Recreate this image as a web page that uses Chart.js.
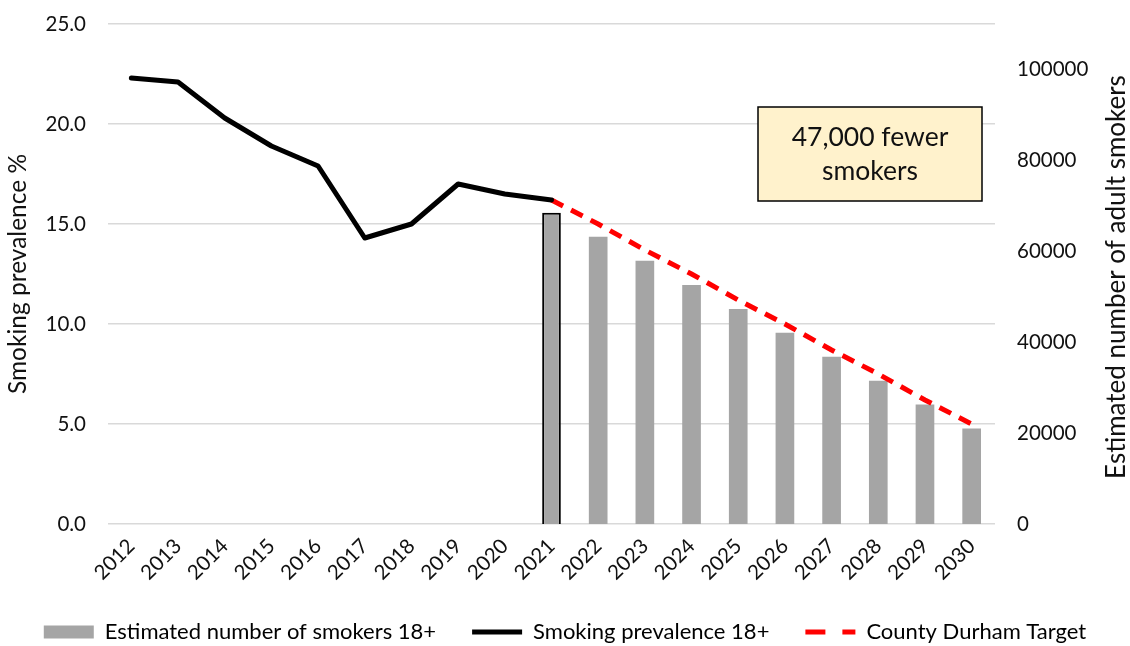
<!DOCTYPE html>
<html>
<head>
<meta charset="utf-8">
<script src="https://cdn.jsdelivr.net/npm/chart.js@4.4.1/dist/chart.umd.min.js"></script>
<style>
  html, body { margin: 0; padding: 0; background: #fff; }
  #wrap { width: 1130px; height: 646px; position: relative; }
</style>
</head>
<body>
<div id="wrap"><canvas id="chart"></canvas></div>
<script>
// data
const years = ["2012", "2013", "2014", "2015", "2016", "2017", "2018", "2019", "2020", "2021",
               "2022", "2023", "2024", "2025", "2026", "2027", "2028", "2029", "2030"];
const prevalence = [22.3, 22.1, 20.3, 18.9, 17.9, 14.3, 15.0, 17.0, 16.5, 16.2,
                    null, null, null, null, null, null, null, null, null];
const target = [null, null, null, null, null, null, null, null, null, 16.2,
                15.0, 13.7, 12.5, 11.2, 10.0, 8.7, 7.5, 6.2, 5.0];
const smokers = [null, null, null, null, null, null, null, null, null, 68500,
                 63200, 57900, 52600, 47300, 42100, 36800, 31500, 26300, 21000];
const leftTicks = [0, 5, 10, 15, 20, 25];
const rightTicks = [0, 20000, 40000, 60000, 80000, 100000];
const seriesNames = ["Estimated number of smokers 18+", "Smoking prevalence 18+", "County Durham Target"];
const noteLines = ["47,000 fewer", "smokers"];
const rightTitle = "Estimated number of adult smokers";

const FONT = "Lato";
const TEXT = "#111";

// the 2021 bar is outlined, the projections are not
const barBorders = smokers.map((v, i) => years[i] === "2021" ? 2 : 0);

const extras = {
  id: "extras",
  afterDraw(chart) {
    const { ctx, chartArea } = chart;
    ctx.save();
    // note box
    const w = 224, h = 94;
    const x = chartArea.right - 237, y = chartArea.top + 83;
    ctx.fillStyle = "#FFF2CC";
    ctx.fillRect(x, y, w, h);
    ctx.lineWidth = 1.5;
    ctx.strokeStyle = "#000";
    ctx.strokeRect(x, y, w, h);
    ctx.fillStyle = TEXT;
    ctx.textAlign = "center";
    ctx.textBaseline = "middle";
    ctx.font = "26.5px " + FONT;
    ctx.fillText(noteLines[0], x + w / 2, y + 30);
    ctx.fillText(noteLines[1], x + w / 2, y + 64);
    // right axis title, reading bottom to top
    ctx.translate(1117, (chartArea.top + chartArea.bottom) / 2 + 3);
    ctx.rotate(-Math.PI / 2);
    ctx.font = "26px " + FONT;
    ctx.fillText(rightTitle, 0, 0);
    ctx.restore();
  }
};

// keep the tick padding from pushing the plot area down
function trimVertical(scale, width) {
  scale.width = width;
  scale.paddingTop = 10;
  scale.paddingBottom = 10;
}

new Chart(document.getElementById("chart"), {
  type: "bar",
  data: {
    labels: years,
    datasets: [
      {
        type: "bar",
        label: seriesNames[0],
        data: smokers,
        yAxisID: "y2",
        backgroundColor: "#A5A5A5",
        borderColor: "#000",
        borderWidth: barBorders,
        barPercentage: 0.4,
        categoryPercentage: 1,
        order: 3,
      },
      {
        type: "line",
        label: seriesNames[1],
        data: prevalence,
        yAxisID: "y",
        borderColor: "#000",
        borderWidth: 5,
        pointRadius: 0,
        tension: 0,
        borderJoinStyle: "round",
        borderCapStyle: "round",
        order: 1,
      },
      {
        type: "line",
        label: seriesNames[2],
        data: target,
        yAxisID: "y",
        borderColor: "#FF0000",
        borderWidth: 5,
        borderDash: [13, 9],
        pointRadius: 0,
        tension: 0,
        order: 2,
      },
    ],
  },
  options: {
    responsive: true,
    maintainAspectRatio: false,
    animation: false,
    layout: { padding: { top: 24, right: 0, left: 0, bottom: -7 } },
    plugins: {
      tooltip: { enabled: false },
      legend: {
        position: "bottom",
        labels: {
          font: { family: FONT, size: 22 },
          color: TEXT,
          usePointStyle: true,
          pointStyleWidth: 50,
          boxWidth: 50,
          boxHeight: 13,
          padding: 36,
          generateLabels: () => [
            { text: seriesNames[0], fillStyle: "#A5A5A5", strokeStyle: "#A5A5A5", lineWidth: 0, pointStyle: "rect", datasetIndex: 0 },
            { text: seriesNames[1], fillStyle: "#000", strokeStyle: "#000", lineWidth: 5, pointStyle: "line", datasetIndex: 1 },
            { text: seriesNames[2], fillStyle: "#FF0000", strokeStyle: "#FF0000", lineWidth: 5, pointStyle: "line", lineDash: [20, 17], datasetIndex: 2 },
          ],
        },
      },
    },
    scales: {
      x: {
        grid: { display: false },
        border: { display: false },
        afterFit: (scale) => { scale.height = 61; },
        ticks: {
          font: { family: FONT, size: 20.5 },
          color: TEXT,
          minRotation: 45,
          maxRotation: 45,
          padding: 2,
        },
      },
      y: {
        position: "left",
        min: 0,
        max: 25,
        afterBuildTicks: (scale) => { scale.ticks = leftTicks.map(v => ({ value: v })); },
        afterFit: (scale) => trimVertical(scale, 108),
        grid: { color: "#D9D9D9", lineWidth: 1.5, drawTicks: false },
        border: { display: false },
        ticks: {
          font: { family: FONT, size: 20.5 },
          color: TEXT,
          padding: 22,
          callback: (v) => v.toFixed(1),
        },
        title: {
          display: true,
          text: "Smoking prevalence %",
          font: { family: FONT, size: 24.5 },
          color: TEXT,
          padding: { top: 3, bottom: 4 },
        },
      },
      y2: {
        position: "right",
        min: 0,
        max: 110000,
        afterBuildTicks: (scale) => { scale.ticks = rightTicks.map(v => ({ value: v })); },
        afterFit: (scale) => trimVertical(scale, 135),
        grid: { display: false, drawTicks: false },
        border: { display: false },
        ticks: {
          font: { family: FONT, size: 20.5 },
          color: TEXT,
          padding: 22,
          callback: (v) => String(v),
        },
      },
    },
  },
  plugins: [extras],
});
</script>
</body>
</html>
